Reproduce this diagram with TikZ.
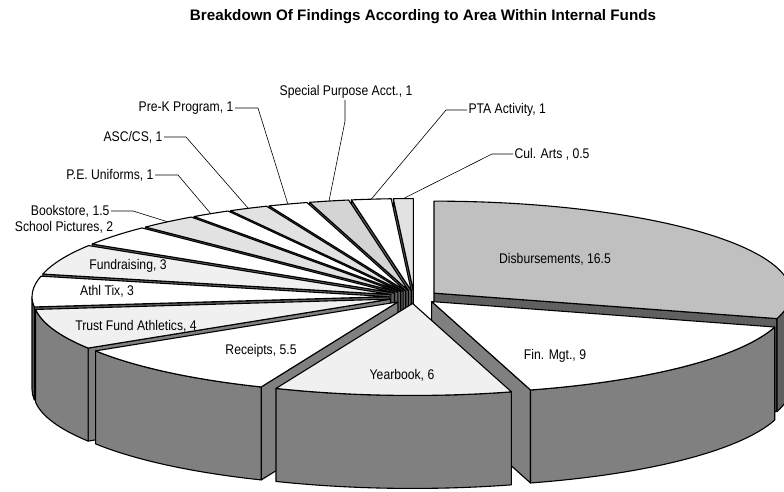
\documentclass[tikz,border=0pt]{standalone}
\usepackage{fontspec}
\setmainfont{Liberation Sans}[FakeStretch=0.87]
\newfontfamily\titlefont{Liberation Sans}
\usepackage{tikz}

\definecolor{sidegray}{HTML}{808080}
\definecolor{sidedark}{HTML}{606060}
\definecolor{topdisb}{HTML}{C0C0C0}
\definecolor{topdots}{HTML}{F0F0F0}
\definecolor{topgray}{HTML}{E2E2E2}
\definecolor{topmid}{HTML}{D4D4D4}

% pie geometry (pixels)
\def\cx{414}
\def\cy{297}
\def\rx{357}
\def\ry{92}
\def\pieh{93}
\def\expl{0.07}

\begin{document}
\begin{tikzpicture}[x=1pt, y=-1pt, line width=1.1pt, line join=round,
    lbl/.style={font=\fontsize{14}{16}\selectfont, inner sep=1pt},
    lead/.style={line width=0.6pt}]
    \path[use as bounding box] (0,0) rectangle (784,491);
    \clip (0,0) rectangle (784,491);

    % slices, back to front
    \foreach \a/\b/\topc/\sidec/\nm in {
        356.79/360/topgray/sidedark/cul,
        350.36/356.79/white/sidedark/pta,
        343.93/350.36/topmid/sidedark/spa,
        337.5/343.93/white/sidedark/prek,
        331.07/337.5/topgray/sidedark/asc,
        324.64/331.07/white/sidedark/peu,
        315/324.64/topgray/sidedark/book,
        302.14/315/white/sidedark/pict,
        0/106.07/topdisb/sidedark/disb,
        282.86/302.14/topdots/sidedark/fund,
        263.57/282.86/white/sidedark/tix,
        237.86/263.57/topdots/sidegray/trust,
        106.07/163.93/white/sidegray/fin,
        202.5/237.86/white/sidegray/rec,
        163.93/202.5/topdots/sidegray/year}{
        \pgfmathsetmacro\bis{(\a+\b)/2}
        \coordinate (\nm-c) at ({\cx+\expl*\rx*sin(\bis)},{\cy-\expl*\ry*cos(\bis)});
        \pgfmathsetmacro\sa{sin(\a)}
        \pgfmathsetmacro\sb{sin(\b)}
        \pgfmathsetmacro\ta{\a-90}
        \pgfmathsetmacro\tb{\b-90}
        \ifdim\sa pt<-0.01pt
            \filldraw[fill=\sidec] (\nm-c) -- ++({\rx*cos(\ta)},{\ry*sin(\ta)}) -- ++(0,\pieh)
                -- ++({-\rx*cos(\ta)},{-\ry*sin(\ta)}) -- cycle;
        \fi
        \ifdim\sb pt>0.01pt
            \filldraw[fill=\sidec] (\nm-c) -- ++({\rx*cos(\tb)},{\ry*sin(\tb)}) -- ++(0,\pieh)
                -- ++({-\rx*cos(\tb)},{-\ry*sin(\tb)}) -- cycle;
        \fi
        % outer wall
        \pgfmathsetmacro\wa{max(\a,90)-90}
        \pgfmathsetmacro\wb{min(\b,270)-90}
        \ifdim\wb pt>\wa pt
            \filldraw[fill=\sidec] (\nm-c) ++({\rx*cos(\wa)},{\ry*sin(\wa)})
                arc[start angle=\wa, end angle=\wb, x radius=\rx, y radius=\ry]
                -- ++(0,\pieh)
                arc[start angle=\wb, end angle=\wa, x radius=\rx, y radius=\ry] -- cycle;
        \fi
        % top
        \filldraw[fill=\topc] (\nm-c) -- ++({\rx*cos(\ta)},{\ry*sin(\ta)})
            arc[start angle=\ta, end angle=\tb, x radius=\rx, y radius=\ry] -- cycle;
        \path (\nm-c) ++({\rx*cos(\bis-90)},{\ry*sin(\bis-90)}) coordinate (\nm-r);
    }

    \node[font=\titlefont\fontsize{15.2}{17}\selectfont\bfseries, anchor=base] (title) at (423,20) {Breakdown Of Findings According to Area Within Internal Funds};

    \node[lbl] (disb) at (555,259) {Disbursements, 16.5};
    \node[lbl] (fin) at (555,356) {Fin. Mgt., 9};
    \node[lbl] (year) at (402,375) {Yearbook, 6};
    \node[lbl] (rec) at (261,351) {Receipts, 5.5};
    \node[lbl] (trust) at (136,326) {Trust Fund Athletics, 4};
    \node[lbl] (tix) at (107,291) {Athl Tix, 3};
    \node[lbl] (fund) at (128,266) {Fundraising, 3};
    \node[lbl] (pict) at (64,227) {School Pictures, 2};

    \node[lbl, anchor=east] (book) at (111,211) {Bookstore, 1.5};
    \node[lbl, anchor=east] (peu) at (155,175) {P.E. Uniforms, 1};
    \node[lbl, anchor=east] (asc) at (164,137) {ASC/CS, 1};
    \node[lbl, anchor=east] (prek) at (235,108) {Pre-K Program, 1};
    \node[lbl] (spa) at (346,92) {Special Purpose Acct., 1};
    \node[lbl, anchor=west] (pta) at (467,110) {PTA Activity, 1};
    \node[lbl, anchor=west] (cul) at (513,154) {Cul. Arts , 0.5};

    \draw[lead] (book.east) -- ++(22,0) -- (book-r);
    \draw[lead] (peu.east) -- ++(23,0) -- (peu-r);
    \draw[lead] (asc.east) -- ++(22,0) -- (asc-r);
    \draw[lead] (prek.east) -- ++(23,0) -- (prek-r);
    \draw[lead] (spa.south -| 345,0) -- ++(0,21) -- (spa-r);
    \draw[lead] (pta.west) -- ++(-21,0) -- (pta-r);
    \draw[lead] (cul.west) -- ++(-21,0) -- (cul-r);
\end{tikzpicture}
\end{document}
